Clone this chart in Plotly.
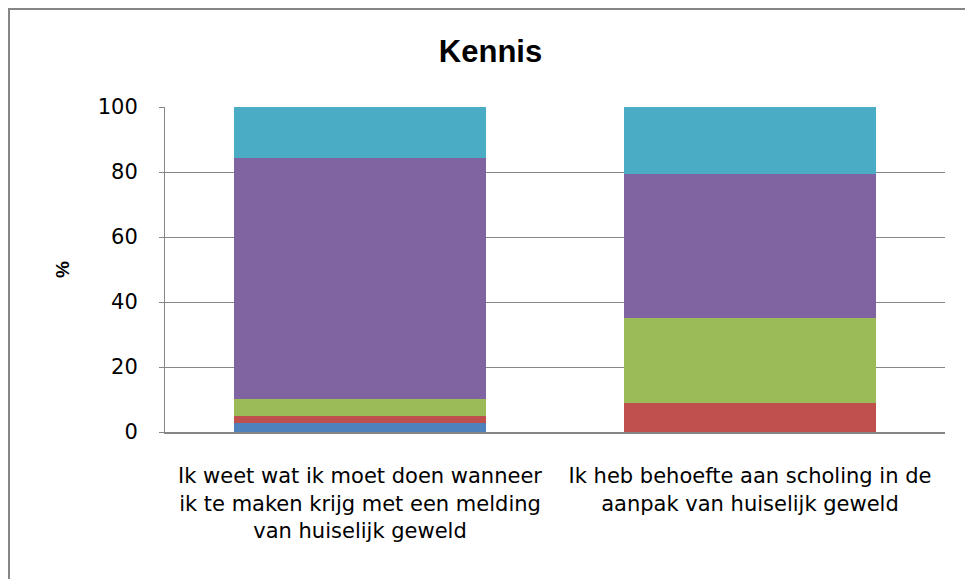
import plotly.graph_objects as go

categories = [
    "Ik weet wat ik moet doen wanneer<br>ik te maken krijg met een melding<br>van huiselijk geweld",
    "Ik heb behoefte aan scholing in de<br>aanpak van huiselijk geweld",
]
series_names = ["Serie 1", "Serie 2", "Serie 3", "Serie 4", "Serie 5"]
series_values = [
    [2.8, 0.0],
    [2.2, 9.0],
    [5.1, 26.2],
    [74.2, 44.1],
    [15.7, 20.7],
]
series_colors = ["#4F81BD", "#C0504D", "#9BBB59", "#8064A2", "#4BACC6"]
y_ticks = [0, 20, 40, 60, 80, 100]

FONT = "DejaVu Sans, sans-serif"
TFONT = "Liberation Sans, Arial, sans-serif"

fig = go.Figure()
for name, vals, col in zip(series_names, series_values, series_colors):
    fig.add_trace(go.Bar(x=categories, y=vals, name=name, marker=dict(color=col, line=dict(width=0))))

W, H = 965, 571
fig.update_layout(
    barmode="stack",
    bargap=0.356,
    width=W,
    height=H,
    margin=dict(l=157, r=28, t=99, b=147),
    paper_bgcolor="white",
    plot_bgcolor="white",
    showlegend=False,
    title=dict(text="<b>Kennis</b>", x=0.5, xanchor="center", y=1 - 43 / H, yanchor="middle",
               font=dict(family=TFONT, size=31, color="black")),
    font=dict(family=FONT, size=20, color="black"),
    xaxis=dict(showline=True, linecolor="#868686", linewidth=2, ticks="",
               tickfont=dict(family=FONT, size=21), ticklabelstandoff=24),
    yaxis=dict(range=[0, 100], tickvals=y_ticks, showgrid=True, gridcolor="#868686", gridwidth=1,
               showline=True, linecolor="#868686", linewidth=1, ticks="outside", ticklen=5,
               tickcolor="#868686", tickfont=dict(family=FONT, size=21), zeroline=False,
               ticklabelstandoff=17,
               title=dict(text="<b>%</b>", font=dict(family=TFONT, size=19), standoff=23)),
    shapes=[dict(type="rect", xref="paper", yref="paper",
                 x0=(9 - 165) / 780, x1=(990 - 165) / 780,
                 y0=-(600 - 432) / 325, y1=(432 - 9) / 325,
                 line=dict(color="#868686", width=2), layer="below")],
)

fig.write_html("out.html")
